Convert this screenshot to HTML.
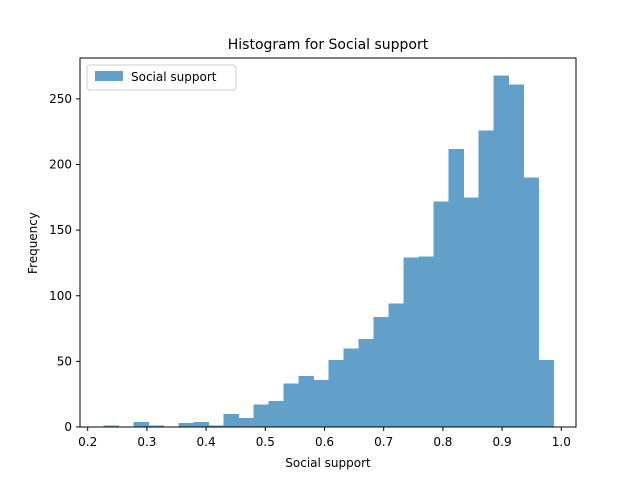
<!DOCTYPE html>
<html><head><meta charset="utf-8"><style>
body{margin:0;background:#fff}
svg text{font-family:"DejaVu Sans","Liberation Sans",sans-serif;fill:#000}
</style></head><body>
<svg width="640" height="480" viewBox="0 0 640 480">
<rect width="640" height="480" fill="#fff"/>
<text x="328" y="49" font-size="14" text-anchor="middle">Histogram for Social support</text>
<g id="bars" shape-rendering="crispEdges"></g>
<g id="xticks"></g>
<g id="yticks"></g>
<rect x="80" y="58" width="496" height="369" fill="none" stroke="#000" stroke-width="1"/>
<text x="328" y="467" font-size="12" text-anchor="middle">Social support</text>
<text transform="translate(37,243) rotate(-90)" font-size="12" text-anchor="middle">Frequency</text>
<g>
<rect x="87" y="65" width="149" height="25" rx="3" fill="#fff" stroke="#ccc"/>
<rect x="95" y="71" width="28" height="10" fill="#62a0ca"/>
<text x="131" y="81" font-size="12">Social support</text>
</g>
</svg>
<script>
const binStart = 0.2266;
const binWidth = 0.02533;
const counts = [1,0,4,1,0,3,4,1,10,7,17,20,33,39,36,51,60,67,84,94,129,130,172,212,175,226,268,261,190,51];
const xTickLabels = ["0.2","0.3","0.4","0.5","0.6","0.7","0.8","0.9","1.0"];
const yTickLabels = ["0","50","100","150","200","250"];
const NS="http://www.w3.org/2000/svg";
function xs(v){return 87.7+(v-0.2)*592;}
function ys(v){return 427-v*1.3125;}
const bars=document.getElementById('bars');
counts.forEach((c,i)=>{
  const x0=xs(binStart+i*binWidth),x1=xs(binStart+(i+1)*binWidth);
  const r=document.createElementNS(NS,'rect');
  r.setAttribute('x',x0);r.setAttribute('width',x1-x0+0.5);
  r.setAttribute('y',ys(c));r.setAttribute('height',427-ys(c));
  r.setAttribute('fill','#62a0ca');
  
  
  bars.appendChild(r);
});
const xg=document.getElementById('xticks');
xTickLabels.forEach(t=>{
  const x=xs(parseFloat(t));
  const l=document.createElementNS(NS,'line');
  l.setAttribute('x1',x);l.setAttribute('x2',x);l.setAttribute('y1',427);l.setAttribute('y2',431);l.setAttribute('stroke','#000');
  
  
  xg.appendChild(l);
  const tx=document.createElementNS(NS,'text');
  tx.setAttribute('x',x);tx.setAttribute('y',446);tx.setAttribute('font-size','12');tx.setAttribute('text-anchor','middle');
  tx.textContent=t;
  
  
  xg.appendChild(tx);
});
const yg=document.getElementById('yticks');
yTickLabels.forEach(t=>{
  const y=ys(parseFloat(t));
  const l=document.createElementNS(NS,'line');
  l.setAttribute('x1',76);l.setAttribute('x2',80);l.setAttribute('y1',y);l.setAttribute('y2',y);l.setAttribute('stroke','#000');
  
  
  yg.appendChild(l);
  const tx=document.createElementNS(NS,'text');
  tx.setAttribute('x',72);tx.setAttribute('y',y+4);tx.setAttribute('font-size','12');tx.setAttribute('text-anchor','end');
  tx.textContent=t;
  
  
  yg.appendChild(tx);
});
</script>
</body></html>
